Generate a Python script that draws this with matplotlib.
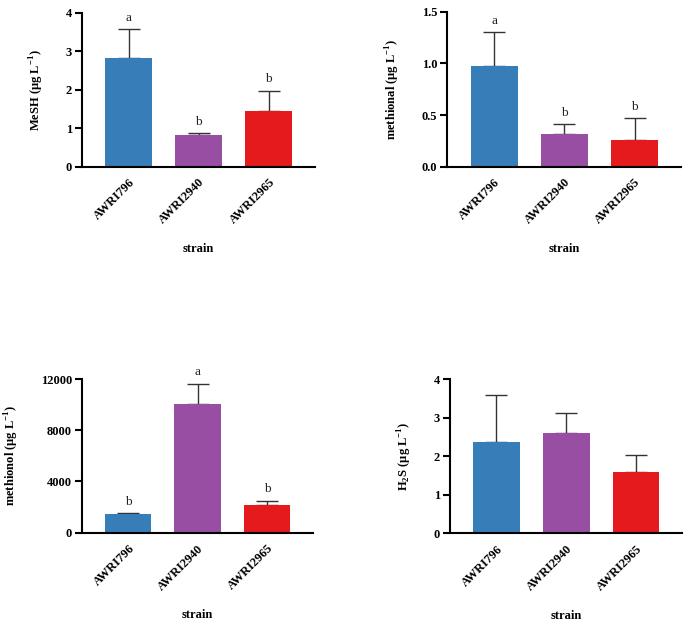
import matplotlib.pyplot as plt
import numpy as np

plt.rcParams['font.family'] = ['Liberation Serif', 'DejaVu Serif']
plt.rcParams['mathtext.fontset'] = 'custom'
plt.rcParams['mathtext.rm'] = 'Liberation Serif'
plt.rcParams['mathtext.bf'] = 'Liberation Serif:bold'

strains = ['AWRI796', 'AWRI2940', 'AWRI2965']
colors = ['#377eb8', '#984ea3', '#e41a1c']

mesh_mean = [2.83, 0.81, 1.45]
mesh_err = [0.74, 0.06, 0.52]
mesh_letters = ['a', 'b', 'b']

methional_mean = [0.97, 0.32, 0.26]
methional_err = [0.33, 0.09, 0.21]
methional_letters = ['a', 'b', 'b']

methionol_mean = [1460, 10070, 2190]
methionol_err = [60, 1560, 310]
methionol_letters = ['b', 'a', 'b']

h2s_mean = [2.37, 2.59, 1.59]
h2s_err = [1.21, 0.53, 0.45]
h2s_letters = [None, None, None]

panels = [
    # mean, err, letters, ylabel, yticks, ytick labels, rect
    (mesh_mean, mesh_err, mesh_letters, 'MeSH (\u00b5g L$^{\\mathbf{-1}}$)',
     [0, 1, 2, 3, 4], ['0', '1', '2', '3', '4'], [0.1177, 0.7329, 0.3362, 0.2468]),
    (methional_mean, methional_err, methional_letters, 'methional (\u00b5g L$^{\\mathbf{-1}}$)',
     [0, 0.5, 1.0, 1.5], ['0.0', '0.5', '1.0', '1.5'], [0.6441, 0.7329, 0.3372, 0.2483]),
    (methionol_mean, methionol_err, methionol_letters, 'methionol (\u00b5g L$^{\\mathbf{-1}}$)',
     [0, 4000, 8000, 12000], ['0', '4000', '8000', '12000'], [0.1177, 0.1463, 0.3333, 0.2463]),
    (h2s_mean, h2s_err, h2s_letters, 'H$_{\\mathbf{2}}$S (\u00b5g L$^{\\mathbf{-1}}$)',
     [0, 1, 2, 3, 4], ['0', '1', '2', '3', '4'], [0.648, 0.1453, 0.3347, 0.2473]),
]

fig = plt.figure(figsize=(6.94, 6.24), dpi=100)

for mean, err, letters, ylab, yt, ytl, rect in panels:
    ax = fig.add_axes(rect)
    x = np.arange(len(strains))
    ax.bar(x, mean, width=0.67, color=colors, zorder=2)
    ax.errorbar(x, mean, yerr=[np.zeros(len(err)), err], fmt='none',
                ecolor='#333333', elinewidth=1.0, capsize=8, capthick=1.0, zorder=1)
    for xi, m, e, lt in zip(x, mean, err, letters):
        if lt:
            ax.annotate(lt, (xi, m + e), xytext=(0, 4), textcoords='offset points',
                        ha='center', va='bottom', fontsize=9.5, color='#222222',
                        annotation_clip=False)
    ax.set_xlim(-0.67, 2.66)
    ax.set_ylim(yt[0], yt[-1])
    ax.set_yticks(yt)
    ax.set_yticklabels(ytl, fontsize=9, fontweight='bold')
    ax.set_xticks(x)
    ax.set_xticklabels(strains, rotation=45, ha='right', rotation_mode='anchor',
                       fontsize=9, fontweight='bold')
    for s in ['top', 'right']:
        ax.spines[s].set_visible(False)
    for s in ['left', 'bottom']:
        ax.spines[s].set_linewidth(1.5)
    ax.tick_params(axis='y', width=1.5, length=5, pad=2)
    ax.tick_params(axis='x', width=1.5, length=0, pad=7)
    ax.set_ylabel(ylab, fontsize=9, fontweight='bold', labelpad=14)
    ax.set_xlabel('strain', fontsize=9, fontweight='bold', labelpad=12)

plt.savefig('out.png', dpi=100)
